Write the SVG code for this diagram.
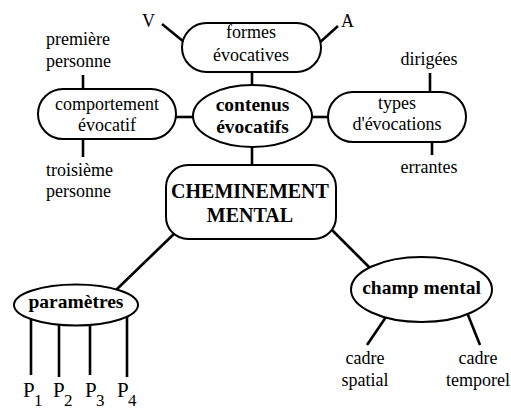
<svg xmlns="http://www.w3.org/2000/svg" width="511" height="410" viewBox="0 0 511 410">
<style>
.n{fill:#fff;stroke:#000;stroke-width:2}
.c line{stroke:#000;stroke-width:2.6}
text{font-family:"Liberation Serif","Times New Roman",serif;fill:#000}
.r{font-size:18px;text-anchor:middle}
.l{font-size:18px}
.b{font-size:19.5px;font-weight:bold;text-anchor:middle}
.p{font-size:21px}
.s{font-size:17px}
</style>
<rect width="511" height="410" fill="#fff"/>
<g class="c">
<line x1="162" y1="24" x2="184" y2="42"/>
<line x1="338" y1="26" x2="318" y2="44"/>
<line x1="252" y1="70" x2="252" y2="90"/>
<line x1="83" y1="75" x2="83" y2="91"/>
<line x1="83" y1="137" x2="83" y2="157"/>
<line x1="174" y1="117" x2="196" y2="117"/>
<line x1="309" y1="117" x2="330" y2="117"/>
<line x1="430" y1="73" x2="430" y2="94"/>
<line x1="432" y1="140" x2="432" y2="155"/>
<line x1="252" y1="144" x2="252" y2="167"/>
<line x1="178" y1="230" x2="116" y2="290"/>
<line x1="328" y1="226" x2="372" y2="270"/>
<line x1="31" y1="310" x2="31" y2="375"/>
<line x1="59" y1="310" x2="59" y2="377"/>
<line x1="90" y1="310" x2="90" y2="375"/>
<line x1="127" y1="310" x2="127" y2="377"/>
<line x1="388" y1="314" x2="367" y2="345"/>
<line x1="466" y1="310" x2="480" y2="345"/>
</g>
<g id="formes">
<rect class="n" x="182" y="23" width="139" height="49" rx="24.5"/>
<text class="r" x="251" y="38">formes</text>
<text class="r" x="251" y="61">évocatives</text>
</g>
<g id="V"><text class="l" x="142" y="27">V</text></g>
<g id="A"><text class="l" x="341" y="27">A</text></g>
<g id="comportement">
<rect class="n" x="38" y="89" width="138" height="50" rx="25"/>
<text class="r" x="107" y="110">comportement</text>
<text class="r" x="107" y="131">évocatif</text>
</g>
<g id="premiere">
<text class="l" x="46" y="45">première</text>
<text class="l" x="46" y="67">personne</text>
</g>
<g id="troisieme">
<text class="l" x="46" y="176">troisième</text>
<text class="l" x="46" y="197">personne</text>
</g>
<g id="contenus">
<ellipse class="n" cx="252.5" cy="116" rx="59.5" ry="31"/>
<text class="b" x="252.5" y="111">contenus</text>
<text class="b" x="252.5" y="133">évocatifs</text>
</g>
<g id="types">
<rect class="n" x="328" y="92" width="138" height="50" rx="25"/>
<text class="r" x="397" y="109">types</text>
<text class="r" x="397" y="130">d'évocations</text>
</g>
<g id="dirigees"><text class="r" x="429" y="65">dirigées</text></g>
<g id="errantes"><text class="r" x="429" y="173">errantes</text></g>
<g id="cheminement">
<rect class="n" x="166" y="165" width="170" height="74" rx="22"/>
<text class="b" x="250" y="198" style="font-size:20px">CHEMINEMENT</text>
<text class="b" x="250" y="222" style="font-size:20px">MENTAL</text>
</g>
<g id="parametres">
<ellipse class="n" cx="76" cy="305" rx="62" ry="20.5"/>
<text class="b" x="76" y="308">paramètres</text>
</g>
<g id="P">
<text class="p" x="23" y="397">P</text><text class="s" x="34" y="406">1</text>
<text class="p" x="53" y="397">P</text><text class="s" x="64" y="406">2</text>
<text class="p" x="85" y="397">P</text><text class="s" x="96" y="406">3</text>
<text class="p" x="117" y="397">P</text><text class="s" x="128" y="406">4</text>
</g>
<g id="champ">
<ellipse class="n" cx="421.5" cy="289.5" rx="70.5" ry="32.5"/>
<text class="b" x="421.5" y="294">champ mental</text>
</g>
<g id="spatial">
<text class="r" x="365" y="364">cadre</text>
<text class="r" x="365" y="386">spatial</text>
</g>
<g id="temporel">
<text class="r" x="478" y="364">cadre</text>
<text class="r" x="478" y="386">temporel</text>
</g>
</svg>
